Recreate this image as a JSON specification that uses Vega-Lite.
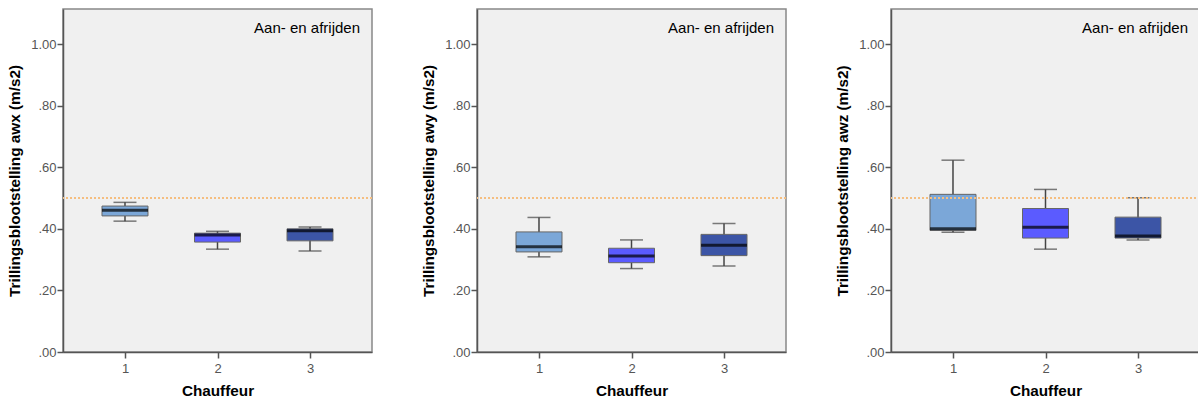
{
  "$schema": "https://vega.github.io/schema/vega-lite/v6.json",
  "background": "white",
  "padding": {"left": 6, "top": 8, "right": 0, "bottom": 0},
  "spacing": 46,
  "config": {
    "font": "Liberation Sans",
    "view": {"fill": "#F0F0F0", "stroke": "#888888", "strokeWidth": 1.5},
    "axis": {"grid": false, "domainColor": "#555555", "domainWidth": 1.5, "tickColor": "#555555", "tickWidth": 1.5, "tickSize": 6,
      "labelFont": "Liberation Sans", "labelFontSize": 13, "labelColor": "#555555",
      "titleFont": "Liberation Sans", "titleFontSize": 15.3, "titleFontWeight": "bold", "titleColor": "#000000"},
    "title": {"font": "Liberation Sans", "fontSize": 15, "fontWeight": "normal", "color": "#000000", "anchor": "end", "frame": "group", "offset": -27, "dx": -12}
  },
  "data": {"values": [
    {"panel": "awx", "chauffeur": "1", "lo": 0.425, "q1": 0.442, "med": 0.460, "q3": 0.474, "hi": 0.486},
    {"panel": "awx", "chauffeur": "2", "lo": 0.334, "q1": 0.357, "med": 0.380, "q3": 0.386, "hi": 0.392},
    {"panel": "awx", "chauffeur": "3", "lo": 0.328, "q1": 0.361, "med": 0.394, "q3": 0.400, "hi": 0.406},
    {"panel": "awy", "chauffeur": "1", "lo": 0.309, "q1": 0.325, "med": 0.342, "q3": 0.390, "hi": 0.437},
    {"panel": "awy", "chauffeur": "2", "lo": 0.271, "q1": 0.290, "med": 0.312, "q3": 0.337, "hi": 0.364},
    {"panel": "awy", "chauffeur": "3", "lo": 0.279, "q1": 0.313, "med": 0.347, "q3": 0.382, "hi": 0.417},
    {"panel": "awz", "chauffeur": "1", "lo": 0.389, "q1": 0.395, "med": 0.400, "q3": 0.512, "hi": 0.623},
    {"panel": "awz", "chauffeur": "2", "lo": 0.334, "q1": 0.370, "med": 0.405, "q3": 0.466, "hi": 0.528},
    {"panel": "awz", "chauffeur": "3", "lo": 0.364, "q1": 0.370, "med": 0.377, "q3": 0.438, "hi": 0.501}
  ]},
  "hconcat": [
    {
      "width": 309, "height": 343,
      "title": "Aan- en afrijden",
      "transform": [{"filter": "datum.panel === 'awx'"}],
      "layer": [
        {"mark": {"type": "rule", "color": "#444444", "strokeWidth": 1.5},
         "encoding": {
           "x": {"field": "chauffeur", "type": "ordinal", "scale": {"type": "point", "padding": 0.67}, "axis": {"title": "Chauffeur", "labelAngle": 0, "labelPadding": 4, "titlePadding": 8}},
           "y": {"field": "lo", "type": "quantitative", "scale": {"domain": [0, 1.114], "nice": false},
           "axis": {"title": "Trillingsblootstelling awx (m/s2)", "values": [0, 0.2, 0.4, 0.6, 0.8, 1.0], "labelExpr": "replace(format(datum.value, '.2f'), '0.', '.')", "labelPadding": 1, "titlePadding": 8}},
           "y2": {"field": "hi"}}},
        {"mark": {"type": "bar", "size": 46, "stroke": "#666666", "strokeWidth": 1},
         "encoding": {"x": {"field": "chauffeur", "type": "ordinal"}, "y": {"field": "q1", "type": "quantitative"}, "y2": {"field": "q3"},
           "color": {"field": "chauffeur", "type": "nominal", "scale": {"domain": ["1", "2", "3"], "range": ["#7BA7D8", "#5B5BFF", "#3C55A6"]}, "legend": null}}},
        {"mark": {"type": "tick", "size": 46, "thickness": 3, "color": "#000000", "orient": "horizontal"},
         "encoding": {"x": {"field": "chauffeur", "type": "ordinal"}, "y": {"field": "med", "type": "quantitative"}}},
        {"mark": {"type": "tick", "size": 23, "thickness": 1.5, "color": "#444444", "orient": "horizontal"},
         "encoding": {"x": {"field": "chauffeur", "type": "ordinal"}, "y": {"field": "hi", "type": "quantitative"}}},
        {"mark": {"type": "tick", "size": 23, "thickness": 1.5, "color": "#444444", "orient": "horizontal"},
         "encoding": {"x": {"field": "chauffeur", "type": "ordinal"}, "y": {"field": "lo", "type": "quantitative"}}},
        {"mark": {"type": "rule", "color": "#F5BE80", "strokeWidth": 2, "strokeDash": [2, 2]},
         "encoding": {"y": {"datum": 0.5}}}
      ]
    },
    {
      "width": 309, "height": 343,
      "title": "Aan- en afrijden",
      "transform": [{"filter": "datum.panel === 'awy'"}],
      "layer": [
        {"mark": {"type": "rule", "color": "#444444", "strokeWidth": 1.5},
         "encoding": {
           "x": {"field": "chauffeur", "type": "ordinal", "scale": {"type": "point", "padding": 0.67}, "axis": {"title": "Chauffeur", "labelAngle": 0, "labelPadding": 4, "titlePadding": 8}},
           "y": {"field": "lo", "type": "quantitative", "scale": {"domain": [0, 1.114], "nice": false},
           "axis": {"title": "Trillingsblootstelling awy (m/s2)", "values": [0, 0.2, 0.4, 0.6, 0.8, 1.0], "labelExpr": "replace(format(datum.value, '.2f'), '0.', '.')", "labelPadding": 1, "titlePadding": 8}},
           "y2": {"field": "hi"}}},
        {"mark": {"type": "bar", "size": 46, "stroke": "#666666", "strokeWidth": 1},
         "encoding": {"x": {"field": "chauffeur", "type": "ordinal"}, "y": {"field": "q1", "type": "quantitative"}, "y2": {"field": "q3"},
           "color": {"field": "chauffeur", "type": "nominal", "scale": {"domain": ["1", "2", "3"], "range": ["#7BA7D8", "#5B5BFF", "#3C55A6"]}, "legend": null}}},
        {"mark": {"type": "tick", "size": 46, "thickness": 3, "color": "#000000", "orient": "horizontal"},
         "encoding": {"x": {"field": "chauffeur", "type": "ordinal"}, "y": {"field": "med", "type": "quantitative"}}},
        {"mark": {"type": "tick", "size": 23, "thickness": 1.5, "color": "#444444", "orient": "horizontal"},
         "encoding": {"x": {"field": "chauffeur", "type": "ordinal"}, "y": {"field": "hi", "type": "quantitative"}}},
        {"mark": {"type": "tick", "size": 23, "thickness": 1.5, "color": "#444444", "orient": "horizontal"},
         "encoding": {"x": {"field": "chauffeur", "type": "ordinal"}, "y": {"field": "lo", "type": "quantitative"}}},
        {"mark": {"type": "rule", "color": "#F5BE80", "strokeWidth": 2, "strokeDash": [2, 2]},
         "encoding": {"y": {"datum": 0.5}}}
      ]
    },
    {
      "width": 309, "height": 343,
      "title": "Aan- en afrijden",
      "transform": [{"filter": "datum.panel === 'awz'"}],
      "layer": [
        {"mark": {"type": "rule", "color": "#444444", "strokeWidth": 1.5},
         "encoding": {
           "x": {"field": "chauffeur", "type": "ordinal", "scale": {"type": "point", "padding": 0.67}, "axis": {"title": "Chauffeur", "labelAngle": 0, "labelPadding": 4, "titlePadding": 8}},
           "y": {"field": "lo", "type": "quantitative", "scale": {"domain": [0, 1.114], "nice": false},
           "axis": {"title": "Trillingsblootstelling awz (m/s2)", "values": [0, 0.2, 0.4, 0.6, 0.8, 1.0], "labelExpr": "replace(format(datum.value, '.2f'), '0.', '.')", "labelPadding": 1, "titlePadding": 8}},
           "y2": {"field": "hi"}}},
        {"mark": {"type": "bar", "size": 46, "stroke": "#666666", "strokeWidth": 1},
         "encoding": {"x": {"field": "chauffeur", "type": "ordinal"}, "y": {"field": "q1", "type": "quantitative"}, "y2": {"field": "q3"},
           "color": {"field": "chauffeur", "type": "nominal", "scale": {"domain": ["1", "2", "3"], "range": ["#7BA7D8", "#5B5BFF", "#3C55A6"]}, "legend": null}}},
        {"mark": {"type": "tick", "size": 46, "thickness": 3, "color": "#000000", "orient": "horizontal"},
         "encoding": {"x": {"field": "chauffeur", "type": "ordinal"}, "y": {"field": "med", "type": "quantitative"}}},
        {"mark": {"type": "tick", "size": 23, "thickness": 1.5, "color": "#444444", "orient": "horizontal"},
         "encoding": {"x": {"field": "chauffeur", "type": "ordinal"}, "y": {"field": "hi", "type": "quantitative"}}},
        {"mark": {"type": "tick", "size": 23, "thickness": 1.5, "color": "#444444", "orient": "horizontal"},
         "encoding": {"x": {"field": "chauffeur", "type": "ordinal"}, "y": {"field": "lo", "type": "quantitative"}}},
        {"mark": {"type": "rule", "color": "#F5BE80", "strokeWidth": 2, "strokeDash": [2, 2]},
         "encoding": {"y": {"datum": 0.5}}}
      ]
    }
  ]
}
